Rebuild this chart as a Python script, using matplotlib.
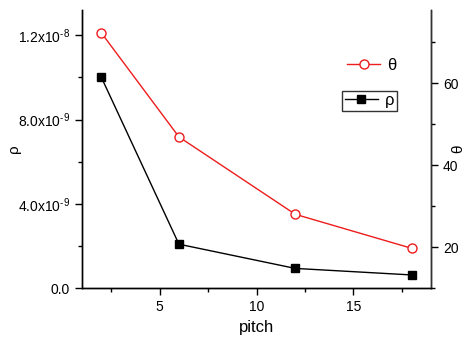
import matplotlib
matplotlib.use('Agg')
import matplotlib.pyplot as plt
from matplotlib.ticker import MultipleLocator
from matplotlib.lines import Line2D

plt.rcParams['font.family'] = ['Liberation Sans', 'DejaVu Sans']
plt.rcParams['mathtext.fontset'] = 'custom'
plt.rcParams['mathtext.rm'] = 'Liberation Sans'
plt.rcParams['mathtext.it'] = 'Liberation Sans'

pitch = [2, 6, 12, 18]
rho = [1.0e-8, 2.08e-9, 9.3e-10, 6.2e-10]
theta = [72.3, 46.9, 28.0, 19.7]

rho_ticks = [0.0, 4.0e-9, 8.0e-9, 1.2e-8]
rho_labels = ['0.0', r'$4.0\mathrm{x}10^{\text{-}9}$', r'$8.0\mathrm{x}10^{\text{-}9}$',
              r'$1.2\mathrm{x}10^{\text{-}8}$']

fig = plt.figure(figsize=(4.66, 3.37), dpi=100)
ax = fig.add_axes([82 / 466, 1 - 288 / 337, (431 - 82) / 466, (288 - 10) / 337])
ax2 = ax.twinx()

ax.plot(pitch, rho, color='black', lw=1, marker='s', ms=6, mfc='black', mec='black')
ax2.plot(pitch, theta, color='#ee1c1c', lw=1, marker='o', ms=6.5, mfc='white', mec='#ee1c1c')

ax.set_xlim(1, 19)
ax.set_ylim(0, 1.32e-8)
ax2.set_ylim(10, 77.9)

ax.xaxis.set_major_locator(MultipleLocator(5))
ax.xaxis.set_minor_locator(MultipleLocator(2.5))
ax.set_yticks(rho_ticks)
ax.set_yticklabels(rho_labels)
ax.yaxis.set_minor_locator(MultipleLocator(2e-9))
ax2.yaxis.set_major_locator(MultipleLocator(20))
ax2.yaxis.set_minor_locator(MultipleLocator(10))

for a in (ax, ax2):
    a.spines['top'].set_visible(False)
    a.tick_params(which='major', direction='out', length=5, width=1, labelsize=10)
    a.tick_params(which='minor', direction='out', length=3, width=1)
    for s in a.spines.values():
        s.set_linewidth(1)
ax2.spines['right'].set_color('#333333')

ax.set_xlabel('pitch', fontsize=12)
ax.set_ylabel('ρ', fontsize=11)
ax2.set_ylabel('θ', fontsize=11)
ax.xaxis.set_label_coords(0.5, -0.115)
ax.yaxis.set_label_coords(-0.175, 0.5)
ax2.yaxis.set_label_coords(1.058, 0.5)

h_theta = Line2D([], [], color='#ee1c1c', lw=1, marker='o', ms=6.5, mfc='white', mec='#ee1c1c')
h_rho = Line2D([], [], color='black', lw=1, marker='s', ms=6, mfc='black')
leg1 = ax2.legend([h_theta], ['θ'], loc='upper left', bbox_to_anchor=(0.75, 0.84),
                  frameon=False, fontsize=12, handlelength=2.0, handletextpad=0.4,
                  borderpad=0.2, borderaxespad=0)
ax2.add_artist(leg1)
leg2 = ax2.legend([h_rho], ['ρ'], loc='upper left', bbox_to_anchor=(0.745, 0.71),
                  frameon=True, fancybox=False, fontsize=12, handlelength=2.0,
                  handletextpad=0.4, borderpad=0.15, borderaxespad=0)
leg2.get_frame().set_edgecolor('black')
leg2.get_frame().set_linewidth(1)

fig.savefig('out.png', dpi=100)
